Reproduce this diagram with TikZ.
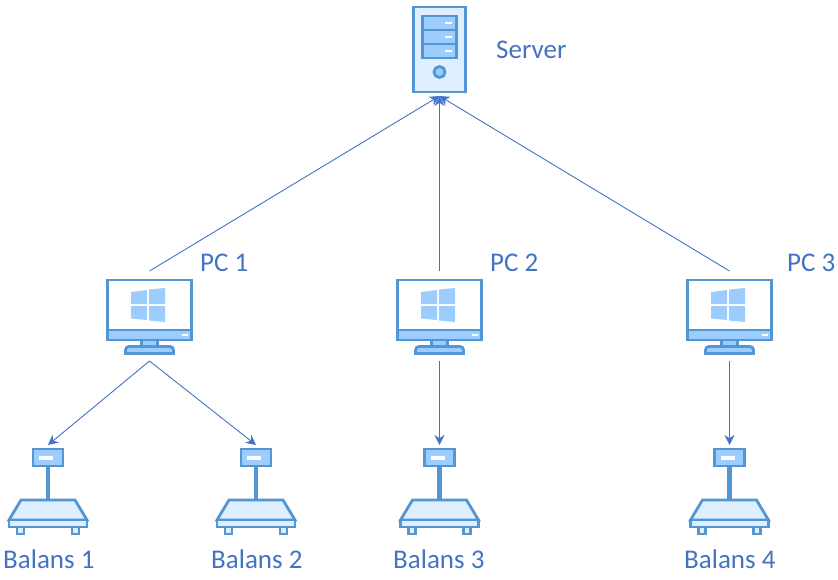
\documentclass[tikz,border=0pt]{standalone}
\usepackage{fontspec}
\setmainfont{Carlito}
\usepackage{xcolor}
\usetikzlibrary{arrows.meta}
\definecolor{linkblue}{HTML}{4472C4}
\definecolor{iconblue}{HTML}{5496D2}
\definecolor{midblue}{HTML}{9DCDFF}
\definecolor{paleblue}{HTML}{DEEFFF}
\tikzset{
  link/.style={draw=linkblue,line width=0.9pt,-{Stealth[length=10pt,width=10pt]}},
  lbl/.style={text=linkblue,font=\fontsize{27}{30}\selectfont,inner sep=0pt},
  iconline/.style={draw=iconblue,line width=2.8pt,line join=miter},
  whitebar/.style={draw=white,line width=2pt},
  servericon/.pic={
    \coordinate (-foot) at (0,-89);
    \filldraw[iconline,fill=paleblue] (-26,0) rectangle (26,-85);
    \filldraw[iconline,fill=midblue] (-17,-9) rectangle (17,-51);
    \draw[iconline] (-17,-23) -- (17,-23);
    \draw[iconline] (-17,-37) -- (17,-37);
    \draw[whitebar] (5,-16) -- (12,-16);
    \draw[whitebar] (5,-30) -- (12,-30);
    \draw[whitebar] (5,-44) -- (12,-44);
    \filldraw[iconline,fill=midblue] (0,-65) circle (5.5);
  },
  pcicon/.pic={
    \coordinate (-top) at (0,9);
    \coordinate (-foot) at (0,-81);
    \filldraw[iconline,fill=white] (-42,0) rectangle (42,-60);
    \filldraw[iconline,fill=midblue] (-42,-50) rectangle (42,-60);
    \draw[whitebar] (32,-55) -- (38,-55);
    \filldraw[iconline,fill=midblue] (-8,-60) rectangle (8,-67);
    \filldraw[iconline,fill=midblue] (-24,-73.5) -- (-24,-70) arc[start angle=180,end angle=90,radius=3.5]
      -- (20.5,-66.5) arc[start angle=90,end angle=0,radius=3.5] -- (24,-73.5) -- cycle;
    \fill[midblue] (-18.5,-12) -- (-2.5,-10) -- (-2.5,-24) -- (-18.5,-24) -- cycle;
    \fill[midblue] (-0.5,-9.5) -- (15.5,-8) -- (15.5,-24) -- (-0.5,-24) -- cycle;
    \fill[midblue] (-18.5,-26) -- (-2.5,-26) -- (-2.5,-40) -- (-18.5,-38.5) -- cycle;
    \fill[midblue] (-0.5,-26) -- (15.5,-26) -- (15.5,-42) -- (-0.5,-40.5) -- cycle;
  },
  scaleicon/.pic={
    \coordinate (-top) at (0,4);
    \filldraw[iconline,fill=midblue] (-15,0) rectangle (15,-17);
    \fill[white] (-9,-7) rectangle (5,-11);
    \draw[iconline,line width=4.6pt] (0,-17) -- (0,-50);
    \filldraw[iconline,fill=paleblue] (-27,-51) -- (27,-51) -- (39,-71) -- (-39,-71) -- cycle;
    \filldraw[iconline,fill=paleblue] (-39,-71) rectangle (39,-78);
    \filldraw[iconline,fill=paleblue] (-31,-78) rectangle (-24,-85);
    \filldraw[iconline,fill=paleblue] (24,-78) rectangle (31,-85);
  }
}
\begin{document}
\begin{tikzpicture}[x=1pt,y=1pt]
\useasboundingbox (0,0) rectangle (838,-580);
\pic (server) at (439.5,-7) {servericon};
\pic (pca) at (149.5,-280) {pcicon};
\pic (pcb) at (439.5,-280) {pcicon};
\pic (pcc) at (729.5,-280) {pcicon};
\pic (balansa) at (48,-449) {scaleicon};
\pic (balansb) at (256,-449) {scaleicon};
\pic (balansc) at (439.5,-449) {scaleicon};
\pic (balansd) at (729.5,-449) {scaleicon};
\draw[link] (pca-top) -- (server-foot);
\draw[link] (pcb-top) -- (server-foot);
\draw[link] (pcc-top) -- (server-foot);
\draw[link] (pca-foot) -- (balansa-top);
\draw[link] (pca-foot) -- (balansb-top);
\draw[link] (pcb-foot) -- (balansc-top);
\draw[link] (pcc-foot) -- (balansd-top);
\node[lbl,anchor=base west] (serverlbl) at (496,-59) {Server};
\node[lbl,anchor=base west] (pcalbl) at (200,-271) {PC 1};
\node[lbl,anchor=base west] (pcblbl) at (490,-271) {PC 2};
\node[lbl,anchor=base west] (pcclbl) at (787,-271) {PC 3};
\node[lbl,anchor=base west] (balansalbl) at (3,-568) {Balans 1};
\node[lbl,anchor=base west] (balansblbl) at (211,-568) {Balans 2};
\node[lbl,anchor=base west] (balansclbl) at (393,-568) {Balans 3};
\node[lbl,anchor=base west] (balansdlbl) at (684,-568) {Balans 4};
\end{tikzpicture}
\end{document}
